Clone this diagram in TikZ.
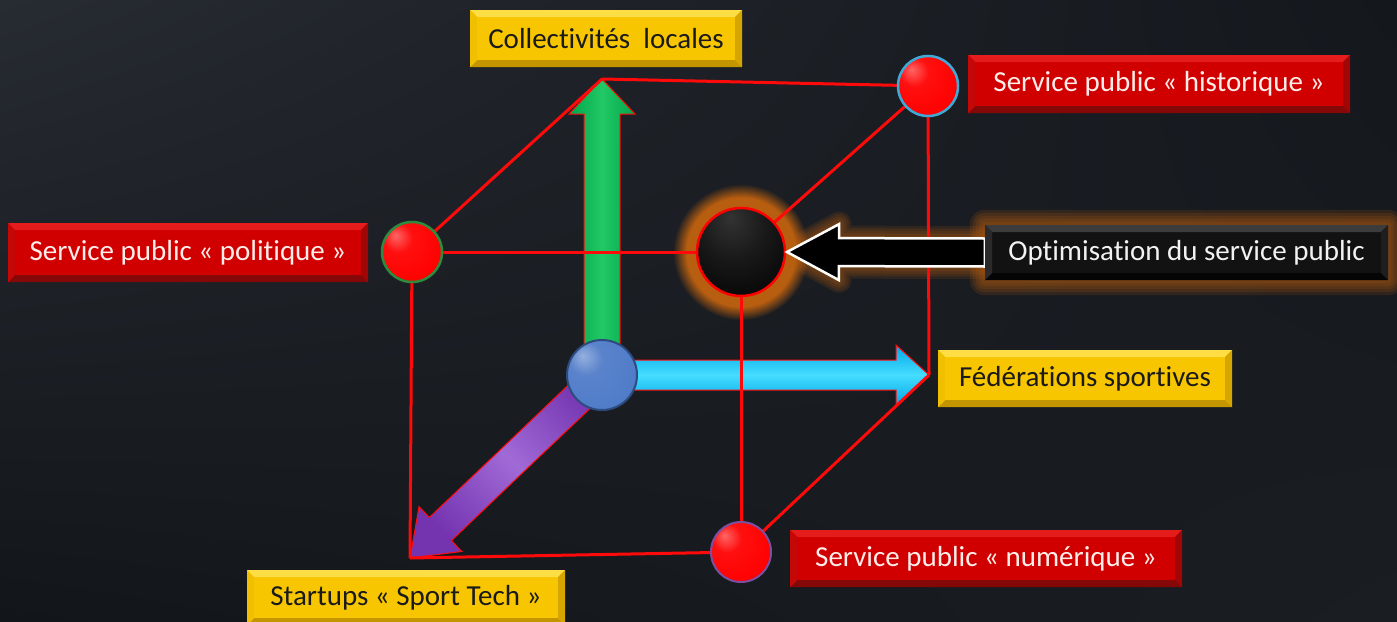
\documentclass[tikz,border=0pt]{standalone}
\usepackage{fontspec}
\setmainfont{Carlito}[Ligatures=NoCommon]
\usetikzlibrary{calc,fadings,shadings}
\definecolor{bgUL}{HTML}{272B32}
\definecolor{bgUR}{HTML}{14171C}
\definecolor{bgLL}{HTML}{121519}
\definecolor{bgLR}{HTML}{1A1D22}
\definecolor{cubered}{HTML}{FF0A0A}
\definecolor{glowc}{HTML}{B85E10}
\definecolor{rmid}{HTML}{D00000}
\definecolor{rtop}{HTML}{E41C1C}
\definecolor{rbot}{HTML}{850808}
\definecolor{rleft}{HTML}{C40808}
\definecolor{rright}{HTML}{A00606}
\definecolor{redtxt}{HTML}{FFEDEA}
\definecolor{ymid}{HTML}{F7C600}
\definecolor{ytop}{HTML}{FFDD45}
\definecolor{ybot}{HTML}{C39600}
\definecolor{yleft}{HTML}{F0C000}
\definecolor{yright}{HTML}{D5A600}
\definecolor{yeltxt}{HTML}{1A1A1A}
\definecolor{kmid}{HTML}{121212}
\definecolor{ktop}{HTML}{3C3C3C}
\definecolor{kbot}{HTML}{050505}
\definecolor{kleft}{HTML}{2A2A2A}
\definecolor{kright}{HTML}{1E1E1E}
\definecolor{ktxt}{HTML}{F2F2F2}
\definecolor{histc}{HTML}{3FA9D8}
\definecolor{polc}{HTML}{2E8B3E}
\definecolor{numc}{HTML}{7A4FA0}
\definecolor{blueball}{HTML}{4F7BC8}
\definecolor{bluerim}{HTML}{2D4B7E}
\definecolor{gA}{HTML}{00A84C}
\definecolor{gB}{HTML}{22C865}
\definecolor{cA}{HTML}{00A8E8}
\definecolor{cB}{HTML}{45DCFF}
\definecolor{pA}{HTML}{7434B0}
\definecolor{pB}{HTML}{A06AD6}
\colorlet{ballc}{red}
\pgfdeclareradialshading[ballc]{softball}{\pgfpoint{-14bp}{14bp}}{color(0bp)=(ballc!60!white); color(12bp)=(ballc!94!white); color(34bp)=(ballc); color(52bp)=(ballc!75!black); color(70bp)=(ballc!62!black)}
\pgfdeclareradialshading{darkball}{\pgfpoint{-6bp}{20bp}}{color(0bp)=(black!80); color(18bp)=(black!90); color(36bp)=(black!97); color(70bp)=(black)}
\newcommand\blockarrow[6]{%
  \path ($(#3)!#6!(#2)$) coordinate (hb);
  \filldraw[#1] ($(#2)!#4!90:(#3)$) -- ($(hb)!#4!90:(#3)$) -- ($(hb)!#5!90:(#3)$) -- (#3)
    -- ($(hb)!#5!-90:(#3)$) -- ($(hb)!#4!-90:(#3)$) -- ($(#2)!#4!-90:(#3)$) -- cycle;
}
\tikzset{
  bevbox/.style n args={5}{fill=#1, inner sep=0pt, font=\fontsize{29}{33}\selectfont,
    path picture={
      \path (path picture bounding box.north west) coordinate (bNW)
            (path picture bounding box.north east) coordinate (bNE)
            (path picture bounding box.south west) coordinate (bSW)
            (path picture bounding box.south east) coordinate (bSE);
      \fill[#2] (bNW) -- (bNE) -- ([xshift=-7pt,yshift=-7pt]bNE) -- ([xshift=7pt,yshift=-7pt]bNW) -- cycle;
      \fill[#3] (bSW) -- (bSE) -- ([xshift=-7pt,yshift=7pt]bSE) -- ([xshift=7pt,yshift=7pt]bSW) -- cycle;
      \fill[#4] (bNW) -- (bSW) -- ([xshift=7pt,yshift=7pt]bSW) -- ([xshift=7pt,yshift=-7pt]bNW) -- cycle;
      \fill[#5] (bNE) -- (bSE) -- ([xshift=-7pt,yshift=7pt]bSE) -- ([xshift=-7pt,yshift=-7pt]bNE) -- cycle;
    }},
  redbox/.style={bevbox={rmid}{rtop}{rbot}{rleft}{rright}, text=redtxt},
  yelbox/.style={bevbox={ymid}{ytop}{ybot}{yleft}{yright}, text=yeltxt},
  blkbox/.style={bevbox={kmid}{ktop}{kbot}{kleft}{kright}, text=ktxt},
  sph/.style={circle, inner sep=0pt, shade, /utils/exec={\colorlet{ballc}{#1}}, shading=softball},
  edge/.style={draw=cubered, line width=3pt},
  axisarrow/.style={draw=cubered, line width=1pt, line join=miter},
}
\begin{document}
\begin{tikzpicture}[x=1pt,y=-1pt]
\useasboundingbox (0,0) rectangle (1397,621);
\shade[upper left=bgUL, upper right=bgUR, lower left=bgLL, lower right=bgLR] (0,0) rectangle (1397,621);

% cube corners
\coordinate (O) at (602,375);
\coordinate (TL) at (602,79);
\coordinate (hist) at (928,86);
\coordinate (BR) at (929,375);
\coordinate (pol) at (412,252);
\coordinate (blk) at (741,252);
\coordinate (num) at (741,552);
\coordinate (FBL) at (410,558);

% label box frame (for the glow)
\node[blkbox, minimum width=403pt, minimum height=55pt] (opt) at (1186.5,252.5) {};

% glows
\fill[glowc, path fading=circle with fuzzy edge 20 percent] (blk) circle (68pt);
\foreach \i in {1,...,5}{
  \fill[glowc, opacity=.16, rounded corners=3*\i pt] ($(opt.north west)+(-3*\i,-3*\i)$) rectangle ($(opt.south east)+(3*\i,3*\i)$);
  \blockarrow{glowc, opacity=.14, line width=5*\i pt, line join=round}{opt.west}{787,252}{14pt}{28pt}{52pt}
}

% axis arrows
\blockarrow{axisarrow, left color=gA, right color=gA, middle color=gB}{O}{TL}{18pt}{33pt}{35pt}
\blockarrow{axisarrow, top color=cA, bottom color=cA, middle color=cB}{O}{BR}{15pt}{30pt}{33pt}
\blockarrow{axisarrow, left color=pA, right color=pA, middle color=pB, shading angle=-45}{O}{FBL}{16pt}{31pt}{42pt}

% cube edges
\draw[edge] (TL) -- (hist);
\draw[edge] (TL) -- (pol);
\draw[edge] (pol) -- (blk);
\draw[edge] (blk) -- (hist);
\draw[edge] (hist) -- (BR);
\draw[edge] (pol) -- (FBL);
\draw[edge] (FBL) -- (num);
\draw[edge] (blk) -- (num);
\draw[edge] (BR) -- (num);

% spheres
\node[sph=red, draw=histc, line width=2.5pt, minimum size=60pt] (histS) at (hist) {};
\node[sph=red, draw=polc, line width=2.5pt, minimum size=60pt] (polS) at (pol) {};
\node[sph=red, draw=numc, line width=2pt, minimum size=60pt] (numS) at (num) {};
\node[sph=blueball, draw=bluerim, line width=2pt, minimum size=70pt] (OS) at (O) {};
\node[circle, inner sep=0pt, shade, shading=darkball, draw=red, line width=2.5pt, minimum size=88pt] (blkS) at (blk) {};

% black pointer arrow
\coordinate (tipc) at (787,252);
\blockarrow{fill=black, draw=white, line width=2.5pt, line join=miter}{opt.west}{tipc}{14pt}{28pt}{52pt}

% label boxes
\node[yelbox, minimum width=272pt, minimum height=57pt] (col) at (606,38.5) {Collectivités\ \ locales};
\node[redbox, minimum width=382pt, minimum height=58pt] (histL) at (1159,84) {Service public « historique\ »};
\node[redbox, minimum width=360pt, minimum height=59pt] (polL) at (188,252.5) {Service public « politique\ »};
\node[blkbox, minimum width=403pt, minimum height=55pt] (optL) at (opt) {Optimisation\ du service public};
\node[yelbox, minimum width=294pt, minimum height=57pt] (fed) at (1085,378.5) {Fédérations sportives};
\node[redbox, minimum width=392pt, minimum height=57pt] (numL) at (986,558.5) {Service public « numérique »};
\node[yelbox, minimum width=318pt, minimum height=55pt] (st) at (406,597.5) {Startups « Sport Tech »};
\end{tikzpicture}
\end{document}
